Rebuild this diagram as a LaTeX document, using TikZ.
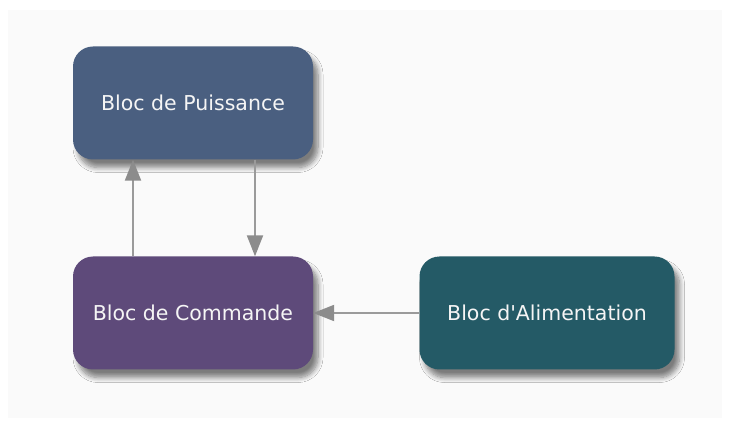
\documentclass[tikz,border=0pt]{standalone}
\usepackage{fontspec}
\setmainfont{DejaVu Sans}
\usetikzlibrary{arrows.meta,shadows.blur}

\definecolor{puissancecol}{HTML}{4A5F80}
\definecolor{commandecol}{HTML}{5E4A7A}
\definecolor{alimcol}{HTML}{245A66}
\definecolor{linkcol}{HTML}{9A9A9A}

\begin{document}
\begin{tikzpicture}[x=1pt, y=-1pt,
    bloc/.style={rounded corners=20pt, minimum height=113pt, text=white!92!gray,
      font=\fontsize{20.5}{24}\selectfont,
      blur shadow={shadow xshift=5pt, shadow yshift=-8pt, shadow blur radius=5pt, shadow blur steps=8, shadow opacity=50}},
    link/.style={draw=linkcol, line width=2pt, -{Triangle[length=21pt,width=16pt,fill=gray!90,color=gray!90]}}]
    \useasboundingbox (0,0) rectangle (729,430);
    \fill[white] (0,0) rectangle (729,430);
    \fill[black!2] (8,10) rectangle (722,418);

    \node[bloc, fill=puissancecol, minimum width=240pt] (puissance) at (193,103) {Bloc de Puissance};
    \node[bloc, fill=commandecol, minimum width=240pt] (commande) at (193,313) {Bloc de Commande};
    \node[bloc, fill=alimcol, minimum width=255pt] (alim) at (547,313) {Bloc d\textquotesingle Alimentation};

    \draw[link] ([xshift=-60pt]commande.north) -- ([xshift=-60pt]puissance.south);
    \draw[link] ([xshift=62pt]puissance.south) -- ([xshift=62pt]commande.north);
    \draw[link] (alim.west) -- (commande.east);
  \end{tikzpicture}
\end{document}
